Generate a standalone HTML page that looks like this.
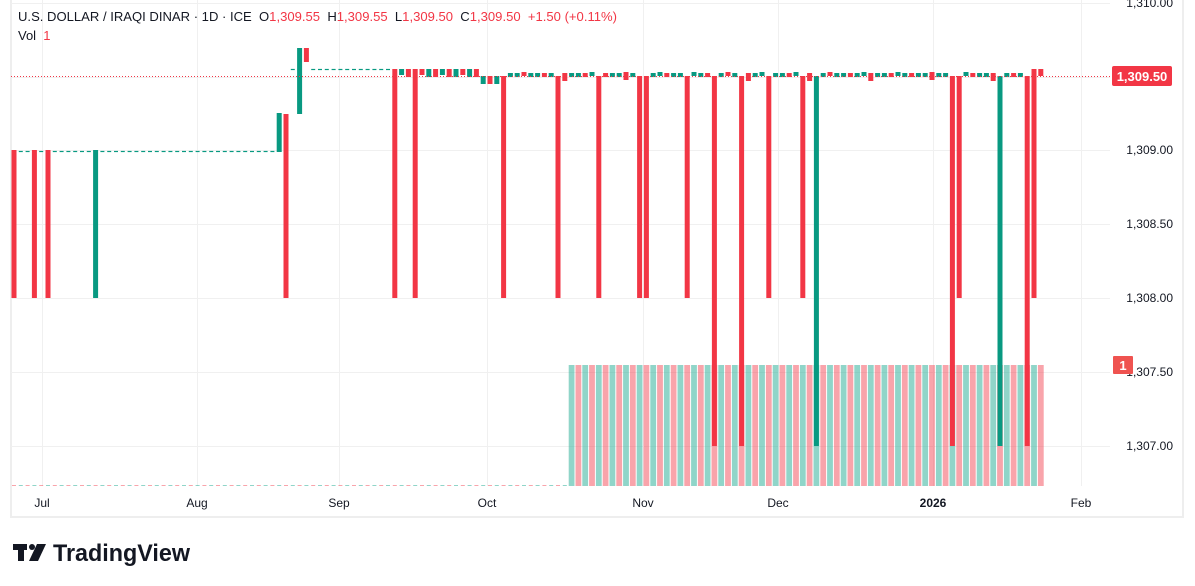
<!DOCTYPE html>
<html><head><meta charset="utf-8"><style>
html,body{margin:0;padding:0;background:#fff;width:1195px;height:586px;overflow:hidden;font-family:"Liberation Sans",sans-serif}
svg text{font-family:"Liberation Sans",sans-serif;white-space:pre}
</style></head><body>
<svg id="s" width="1195" height="586" xmlns="http://www.w3.org/2000/svg">
<rect x="11" y="-2" width="1172" height="519" fill="none" stroke="#eeeeee" stroke-width="2"/>
<g id="grid" stroke="#f0f0f0" stroke-width="1"></g>
<g id="vol"></g>
<g id="c"></g>
<line x1="11" y1="76.5" x2="1110" y2="76.5" stroke="#f23645" stroke-dasharray="1,2"/>
<g font-size="12" fill="#131722" text-anchor="end">
<text x="1173" y="7">1,310.00</text>
<text x="1173" y="154">1,309.00</text>
<text x="1173" y="228">1,308.50</text>
<text x="1173" y="302">1,308.00</text>
<text x="1173" y="376">1,307.50</text>
<text x="1173" y="450">1,307.00</text>
</g>
<rect x="1112" y="66" width="60" height="20" rx="2" fill="#f23645"/>
<text x="1142" y="81" font-size="13" font-weight="bold" fill="#fff" text-anchor="middle">1,309.50</text>
<rect x="1113" y="356" width="20" height="18" rx="1" fill="#ef5350"/>
<text x="1123" y="370" font-size="13" font-weight="bold" fill="#fff" text-anchor="middle">1</text>
<g font-size="12" fill="#131722" text-anchor="middle">
<text x="42" y="507">Jul</text><text x="197" y="507">Aug</text><text x="339" y="507">Sep</text>
<text x="487" y="507">Oct</text><text x="643" y="507">Nov</text><text x="778" y="507">Dec</text>
<text x="933" y="507" font-weight="bold">2026</text><text x="1081" y="507">Feb</text>
</g>
<text x="18" y="21" font-size="13" fill="#131722" textLength="599" lengthAdjust="spacingAndGlyphs">U.S. DOLLAR / IRAQI DINAR · 1D · ICE  O<tspan fill="#f23645">1,309.55</tspan>  H<tspan fill="#f23645">1,309.55</tspan>  L<tspan fill="#f23645">1,309.50</tspan>  C<tspan fill="#f23645">1,309.50</tspan>  <tspan fill="#f23645">+1.50 (+0.11%)</tspan></text>
<text x="18" y="40" font-size="13" fill="#131722">Vol  <tspan fill="#f23645">1</tspan></text>
<g fill="#131722">
<rect x="13" y="544" width="14" height="6"/><rect x="18" y="544" width="6" height="17"/>
<circle cx="32" cy="547" r="3"/><polygon points="37,544 46,544 38,561 29,561"/>
</g>
<text x="53" y="561" font-size="24" font-weight="bold" fill="#131722" textLength="137" lengthAdjust="spacingAndGlyphs">TradingView</text>
</svg>
<script>
const NS="http://www.w3.org/2000/svg";
function el(p,t,a){const e=document.createElementNS(NS,t);for(const k in a)e.setAttribute(k,a[k]);p.appendChild(e);return e;}
const G=document.getElementById('grid'),C=document.getElementById('c'),V=document.getElementById('vol');
[3,77,150,224,298,372,446].forEach(y=>el(G,'line',{x1:11,x2:1110,y1:y+.5,y2:y+.5}));
[42,197,339,487,643,778,933,1081].forEach(x=>el(G,'line',{x1:x+.5,x2:x+.5,y1:0,y2:486}));
const R="#f23645",GR="#089981";
const step=6.8,x0=14,w=5;
const spec={14:[150,298,R],37:[150,298,R],49:[150,298,R],96:[150,298,GR],281:[113,152,GR],285:[114,298,R],298:[48,114,GR],306:[48,62,R],
393:[69,298,R],415:[69,298,R],501:[76,298,R],555:[76,298,R],597:[76,298,R],643:[76,298,R],690:[76,298,R],771:[76,298,R],805:[76,298,R],960:[76,298,R],
717:[76,446,R],744:[76,446,R],953:[76,446,R],1028:[76,446,R],819:[76,446,GR],1001:[76,446,GR],1034:[69,298,R],1041:[69,76,R]};
for(let i=0;i<=151;i++){
 const x=x0+i*step;let s=null;
 for(const k in spec){if(Math.abs(k-x)<3.5){s=spec[k];}}
 if(s){el(C,'rect',{x:x-w/2,y:s[0],width:w,height:s[1]-s[0],fill:s[2]});}
 else if(x<280){el(C,'line',{x1:x-2,x2:x+2,y1:151.5,y2:151.5,stroke:GR,"stroke-width":1.2});}
 else if(x<390){el(C,'line',{x1:x-2,x2:x+2,y1:69.5,y2:69.5,stroke:GR,"stroke-width":1.2});}
 else if(x<480){el(C,'rect',{x:x-w/2,y:69,width:w,height:i%3==0?6:8,fill:i%2?GR:R});}
 else if(x<500){el(C,'rect',{x:x-w/2,y:76,width:w,height:8,fill:i%2?GR:R});}
 else {const c=(i*7)%3==0?R:GR;const y=(i%5==0)?72:73;el(C,'rect',{x:x-w/2,y:y,width:w,height:(i%9==0)?8:4,fill:c});}
}
for(let i=0;i<=151;i++){
 const x=x0+i*step;const c=i%2?"rgba(34,171,148,0.5)":"rgba(242,54,69,0.45)";
 if(x>=570) el(V,'rect',{x:x-2.9,y:365,width:5.8,height:121,fill:(Math.round((x-573)/step))%2?"rgba(242,54,69,0.45)":"rgba(34,171,148,0.5)"});
 else el(V,'rect',{x:x-2,y:485,width:4,height:1,fill:c});
}
</script>
</body></html>
